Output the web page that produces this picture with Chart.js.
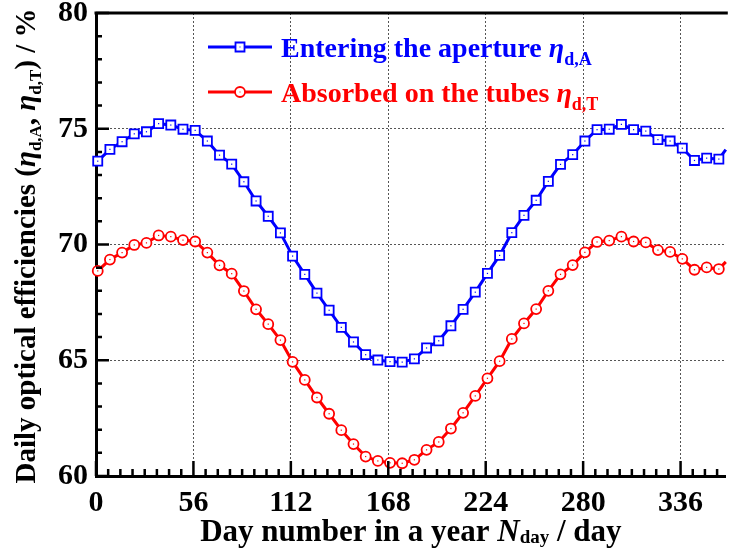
<!DOCTYPE html>
<html>
<head>
<meta charset="utf-8">
<script src="https://cdn.jsdelivr.net/npm/chart.js@4.4.1/dist/chart.umd.min.js"></script>
<style>
  html, body { margin: 0; padding: 0; background: #fff; overflow: hidden; }
  #wrap { width: 734px; height: 552px; }
</style>
</head>
<body>
<div id="wrap"><canvas id="chart"></canvas></div>
<script>
// day of year for each weekly sample
const days = [1, 8, 15, 22, 29, 36, 43, 50, 57, 64, 71, 78, 85, 92, 99, 106, 113, 120,
  127, 134, 141, 148, 155, 162, 169, 176, 183, 190, 197, 204, 211, 218, 225, 232, 239,
  246, 253, 260, 267, 274, 281, 288, 295, 302, 309, 316, 323, 330, 337, 344, 351, 358];

// daily optical efficiency entering the aperture (%)
const etaAperture = [73.60, 74.11, 74.44, 74.78, 74.87, 75.22, 75.16, 74.98, 74.93, 74.47,
  73.86, 73.47, 72.71, 71.88, 71.22, 70.50, 69.50, 68.71, 67.90, 67.16,
  66.42, 65.79, 65.24, 65.01, 64.94, 64.92, 65.06, 65.53, 65.84, 66.49,
  67.20, 67.94, 68.75, 69.53, 70.51, 71.26, 71.91, 72.73, 73.46, 73.88,
  74.47, 74.96, 74.98, 75.19, 74.96, 74.90, 74.53, 74.47, 74.16, 73.63,
  73.73, 73.69];

// daily optical efficiency absorbed on the tubes (%)
const etaTubes = [68.86, 69.35, 69.65, 69.98, 70.07, 70.39, 70.34, 70.19, 70.13, 69.65,
  69.10, 68.74, 67.99, 67.20, 66.56, 65.87, 64.93, 64.15, 63.39, 62.69,
  61.98, 61.38, 60.84, 60.65, 60.57, 60.55, 60.70, 61.13, 61.47, 62.05,
  62.73, 63.46, 64.22, 64.96, 65.92, 66.59, 67.21, 68.00, 68.71, 69.11,
  69.66, 70.11, 70.17, 70.34, 70.13, 70.09, 69.76, 69.68, 69.38, 68.91,
  69.01, 68.94];

// curve end at the right edge of the axis
const tailDay = 362;
const tailAperture = 74.1;
const tailTubes = 69.25;

const xTicks = [0, 56, 112, 168, 224, 280, 336];
const yTicks = [60, 65, 70, 75, 80];

const SERIF = '"Liberation Serif", "Times New Roman", serif';
const BLUE = '#0000ff';
const RED = '#ff0000';

function series(values, tail) {
  const pts = days.map((d, i) => ({ x: d, y: values[i] }));
  pts.push({ x: tailDay, y: tail });
  return pts;
}

// draws a run of text pieces (plain, italic, subscript) one after another
function richText(ctx, parts, x, y, align) {
  let total = 0;
  parts.forEach(p => {
    ctx.font = p.f;
    p.w = ctx.measureText(p.t).width;
    total += p.w;
  });
  let cx = align === 'center' ? x - total / 2 : x;
  parts.forEach(p => {
    ctx.font = p.f;
    ctx.fillText(p.t, cx, y + (p.dy || 0));
    cx += p.w;
  });
}

function drawMarker(ctx, style, x, y, color) {
  ctx.save();
  ctx.fillStyle = '#fff';
  ctx.strokeStyle = color;
  ctx.lineWidth = 1.8;
  ctx.beginPath();
  if (style === 'rect') ctx.rect(x - 4.5, y - 4.5, 9, 9);
  else ctx.arc(x, y, 5, 0, Math.PI * 2);
  ctx.fill();
  ctx.stroke();
  ctx.fillStyle = color;
  ctx.fillRect(x - 0.5, y - 0.5, 1, 1);
  ctx.restore();
}

const frame = {
  id: 'frame',
  afterDatasetsDraw(chart) {
    const ctx = chart.ctx;
    const { left, right, top, bottom } = chart.chartArea;
    const xs = chart.scales.x, ys = chart.scales.y;

    // little dot in the middle of each marker
    chart.data.datasets.forEach((ds, i) => {
      chart.getDatasetMeta(i).data.forEach((pt, j) => {
        if (j >= days.length) return;
        ctx.fillStyle = ds.borderColor;
        ctx.fillRect(pt.x - 0.6, pt.y - 0.6, 1.2, 1.2);
      });
    });

    ctx.save();
    ctx.strokeStyle = '#000';
    ctx.lineWidth = 3;
    ctx.beginPath();
    ctx.moveTo(left - 1.5, top);
    ctx.lineTo(right + 2, top);
    ctx.stroke();

    // inward ticks
    ctx.lineWidth = 2.5;
    ctx.beginPath();
    for (let d = 0; d <= xs.max; d += 7) {
      const px = xs.getPixelForValue(d);
      const len = d % 56 === 0 ? 15 : 7;
      ctx.moveTo(px, bottom);
      ctx.lineTo(px, bottom - len);
    }
    for (let v = ys.min; v <= ys.max; v += 1) {
      const py = ys.getPixelForValue(v);
      const len = v % 5 === 0 ? 13 : 6;
      ctx.moveTo(left, py);
      ctx.lineTo(left + len, py);
    }
    ctx.stroke();
    ctx.restore();

    // axis titles
    ctx.save();
    ctx.fillStyle = '#000';
    ctx.textBaseline = 'alphabetic';
    richText(ctx, [
      { t: 'Day number in a year ', f: 'bold 31px ' + SERIF },
      { t: 'N', f: 'italic bold 31px ' + SERIF },
      { t: 'day', f: 'bold 19px ' + SERIF, dy: 2 },
      { t: ' / day', f: 'bold 31px ' + SERIF }
    ], (left + right) / 2, 541, 'center');

    const yf = 'bold 29px ' + SERIF;
    const yi = 'italic bold 29px ' + SERIF;
    const ysub = 'bold 17px ' + SERIF;
    ctx.translate(35, 246);
    ctx.rotate(-Math.PI / 2);
    richText(ctx, [
      { t: 'Daily optical efficiencies (', f: yf },
      { t: '\u03b7', f: yi },
      { t: 'd,A', f: ysub, dy: 6 },
      { t: ', ', f: yf },
      { t: '\u03b7', f: yi },
      { t: 'd,T', f: ysub, dy: 6 },
      { t: ') / %', f: yf }
    ], 0, 0, 'center');
    ctx.restore();

    // legend
    const lf = 'bold 28px ' + SERIF;
    const li = 'italic bold 28px ' + SERIF;
    const ls = 'bold 18px ' + SERIF;
    const rows = [
      { y: 47, color: BLUE, style: 'rect', parts: [
        { t: 'Entering the aperture ', f: lf },
        { t: '\u03b7', f: li },
        { t: 'd,A', f: ls, dy: 8 }
      ] },
      { y: 92, color: RED, style: 'circle', parts: [
        { t: 'Absorbed on the tubes ', f: lf },
        { t: '\u03b7', f: li },
        { t: 'd,T', f: ls, dy: 8 }
      ] }
    ];
    rows.forEach(r => {
      ctx.save();
      ctx.strokeStyle = r.color;
      ctx.lineWidth = 3;
      ctx.beginPath();
      ctx.moveTo(208, r.y);
      ctx.lineTo(272, r.y);
      ctx.stroke();
      drawMarker(ctx, r.style, 240, r.y, r.color);
      ctx.fillStyle = r.color;
      ctx.textBaseline = 'alphabetic';
      richText(ctx, r.parts, 281, r.y + 10, 'left');
      ctx.restore();
    });
  }
};

const ctx = document.getElementById('chart').getContext('2d');
new Chart(ctx, {
  type: 'scatter',
  data: {
    datasets: [
      {
        label: 'Entering the aperture',
        data: series(etaAperture, tailAperture),
        showLine: true,
        borderColor: BLUE,
        backgroundColor: '#fff',
        borderWidth: 3,
        pointStyle: 'rect',
        pointRadius: c => (c.dataIndex >= days.length ? 0 : 6.4),
        pointBorderWidth: 1.8,
        pointHoverRadius: 6.4,
        clip: 8
      },
      {
        label: 'Absorbed on the tubes',
        data: series(etaTubes, tailTubes),
        showLine: true,
        borderColor: RED,
        backgroundColor: '#fff',
        borderWidth: 3,
        pointStyle: 'circle',
        pointRadius: c => (c.dataIndex >= days.length ? 0 : 5),
        pointBorderWidth: 1.8,
        pointHoverRadius: 5,
        clip: 8
      }
    ]
  },
  options: {
    responsive: true,
    maintainAspectRatio: false,
    animation: false,
    layout: { padding: { top: 13, right: 0, left: 0, bottom: 0 } },
    plugins: {
      legend: { display: false },
      tooltip: { enabled: false }
    },
    scales: {
      x: {
        type: 'linear',
        min: 0,
        max: tailDay,
        afterBuildTicks: s => { s.ticks = xTicks.map(v => ({ value: v })); },
        afterFit: s => { s.height = 76; s.paddingLeft = 0; s.paddingRight = 0; },
        ticks: {
          color: '#000',
          padding: 9,
          maxRotation: 0,
          font: { family: SERIF, size: 30, weight: 'bold' }
        },
        grid: { color: '#555', lineWidth: 1, drawTicks: false },
        border: { display: true, color: '#000', width: 3, dash: [2, 2] }
      },
      y: {
        type: 'linear',
        min: 60,
        max: 80,
        afterBuildTicks: s => { s.ticks = yTicks.map(v => ({ value: v })); },
        afterFit: s => { s.width = 96; s.paddingTop = 0; s.paddingBottom = 0; },
        ticks: {
          color: '#000',
          padding: 8,
          font: { family: SERIF, size: 30, weight: 'bold' }
        },
        grid: { color: '#555', lineWidth: 1, drawTicks: false },
        border: { display: true, color: '#000', width: 3, dash: [2, 2] }
      }
    }
  },
  plugins: [frame]
});
</script>
</body>
</html>
